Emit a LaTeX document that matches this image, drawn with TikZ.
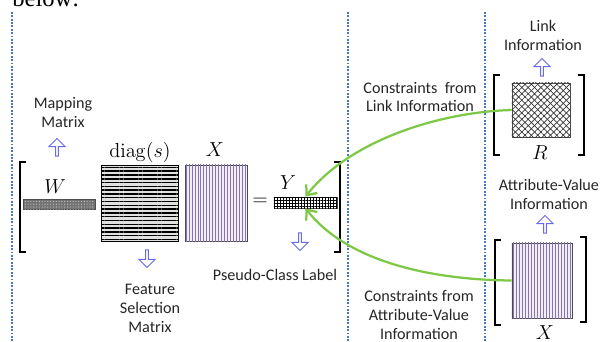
\documentclass[tikz,border=0pt]{standalone}
\usepackage[no-math]{fontspec}
\setmainfont{Carlito}
\newfontfamily\paperfont{Liberation Serif}
\usetikzlibrary{arrows.meta,shapes.arrows,patterns.meta}
\definecolor{arrowblue}{RGB}{105,105,235}
\definecolor{sepblue}{RGB}{70,120,190}
\definecolor{linkgreen}{RGB}{125,200,70}
\definecolor{attrpurple}{RGB}{135,115,175}
\tikzset{
  mat/.style={draw=black!70, line width=0.5pt, inner sep=0pt},
  hollow/.style={single arrow, draw=arrowblue, fill=white, line width=0.7pt,
    inner sep=0pt, minimum height=0.44cm, minimum width=0.4cm,
    single arrow head extend=0.06cm},
  lbl/.style={align=center, text=black!85, font=\fontsize{11.5}{13.5}\selectfont},
  sym/.style={font=\fontsize{13.5}{15}\selectfont},
  brk/.style={line width=1.8pt},
  sep/.style={sepblue, dash pattern=on 1.3pt off 1.1pt, line width=1.4pt},
  constr/.style={linkgreen, line width=1.6pt, -{Straight Barb[length=6pt,width=10pt]}}
}

\begin{document}
\begin{tikzpicture}[x=0.025cm, y=-0.025cm]
  \useasboundingbox (0,0) rectangle (600,342);
  % cut off text from the page
  \node[anchor=base west, inner sep=0pt, font=\paperfont\fontsize{17.5}{20}\selectfont] (below) at (12,7) {below:};
  % separators
  \draw[sep] (12,12) -- (12,342);
  \draw[sep] (348,12) -- (348,342);
  \draw[sep] (485,12) -- (485,342);

  % left panel: W diag(s) X = Y
  \node[mat, fill=black!55, minimum width=1.8cm, minimum height=0.25cm,
    postaction={pattern={Dots[distance=2pt,radius=0.4pt]}, pattern color=black!20}] (W) at (59,204) {};
  \node[mat, draw=black, fill=black!12, minimum width=1.925cm, minimum height=1.9cm,
    postaction={pattern={Lines[angle=0,distance=2.7pt,line width=1.1pt]}, pattern color=black}] (D) at (139.5,203) {};
  \node[mat, fill=attrpurple!12, minimum width=1.55cm, minimum height=1.9cm,
    postaction={pattern={Lines[angle=90,distance=2.1pt,line width=0.5pt]}, pattern color=attrpurple}] (X) at (216,203) {};
  \node[mat, fill=white, minimum width=1.575cm, minimum height=0.275cm,
    postaction={pattern={Hatch[distance=2.1pt,angle=0,line width=0.4pt]}, pattern color=black}] (Y) at (305.5,202.5) {};

  \node[sym] (Wlbl) at (55,187) {$W$};
  \node[sym] (Dlbl) at (140,152) {$\mathrm{diag}(s)$};
  \node[sym] (Xlbl) at (215,150) {$X$};
  \node[sym] (eq) at (260,202) {$=$};
  \node[sym] (Ylbl) at (288,183) {$Y$};

  \draw[brk] (26,162) -- (20,162) -- (20,252) -- (26,252);
  \draw[brk] (334,162) -- (340,162) -- (340,252) -- (334,252);

  \node[hollow, shape border rotate=90] (mapup) at (57,148) {};
  \node[hollow, shape border rotate=270] (featdown) at (147,258) {};
  \node[hollow, shape border rotate=270] (pseudodown) at (300,241) {};

  \node[lbl] (maplbl) at (63,112.5) {Mapping\\Matrix};
  \node[lbl] (featlbl) at (150,308) {Feature\\Selection\\Matrix};
  \node[lbl] (pseudolbl) at (275,275) {Pseudo-Class Label};

  % right panel: R and X
  \node[mat, fill=white, minimum width=1.45cm, minimum height=1.35cm,
    postaction={pattern={Lines[angle=45,distance=3.2pt,line width=0.5pt]}, pattern color=black!80},
    postaction={pattern={Lines[angle=-45,distance=3.2pt,line width=0.5pt]}, pattern color=black!80}] (R) at (541,110) {};
  \node[mat, fill=attrpurple!12, minimum width=1.5cm, minimum height=1.875cm,
    postaction={pattern={Lines[angle=90,distance=2.1pt,line width=0.5pt]}, pattern color=attrpurple}] (Xr) at (542,280.5) {};
  \node[sym] (Rlbl) at (540,153) {$R$};
  \node[sym] (Xrlbl) at (545,333) {$X$};

  \draw[brk] (500,75) -- (494,75) -- (494,155) -- (500,155);
  \draw[brk] (578,75) -- (584,75) -- (584,155) -- (578,155);
  \draw[brk] (501,240) -- (495,240) -- (495,325) -- (501,325);
  \draw[brk] (580,237) -- (586,237) -- (586,322) -- (580,322);

  \node[hollow, shape border rotate=90] (linkup) at (542,68) {};
  \node[hollow, shape border rotate=90] (attrup) at (545,225) {};
  \node[lbl] (linklbl) at (543,35) {Link\\Information};
  \node[lbl] (attrlbl) at (549,194) {Attribute-Value\\Information};

  % constraints
  \node[lbl] (c1lbl) at (420,97) {Constraints\ \ from\\Link Information};
  \node[lbl] (c2lbl) at (419,315) {Constraints from\\Attribute-Value\\Information};
  \draw[constr] (R.west) .. controls (440,112) and (350,140) .. (Y.north);
  \draw[constr] (Xr.west) .. controls (440,280) and (350,265) .. (Y.south);
\end{tikzpicture}
\end{document}
